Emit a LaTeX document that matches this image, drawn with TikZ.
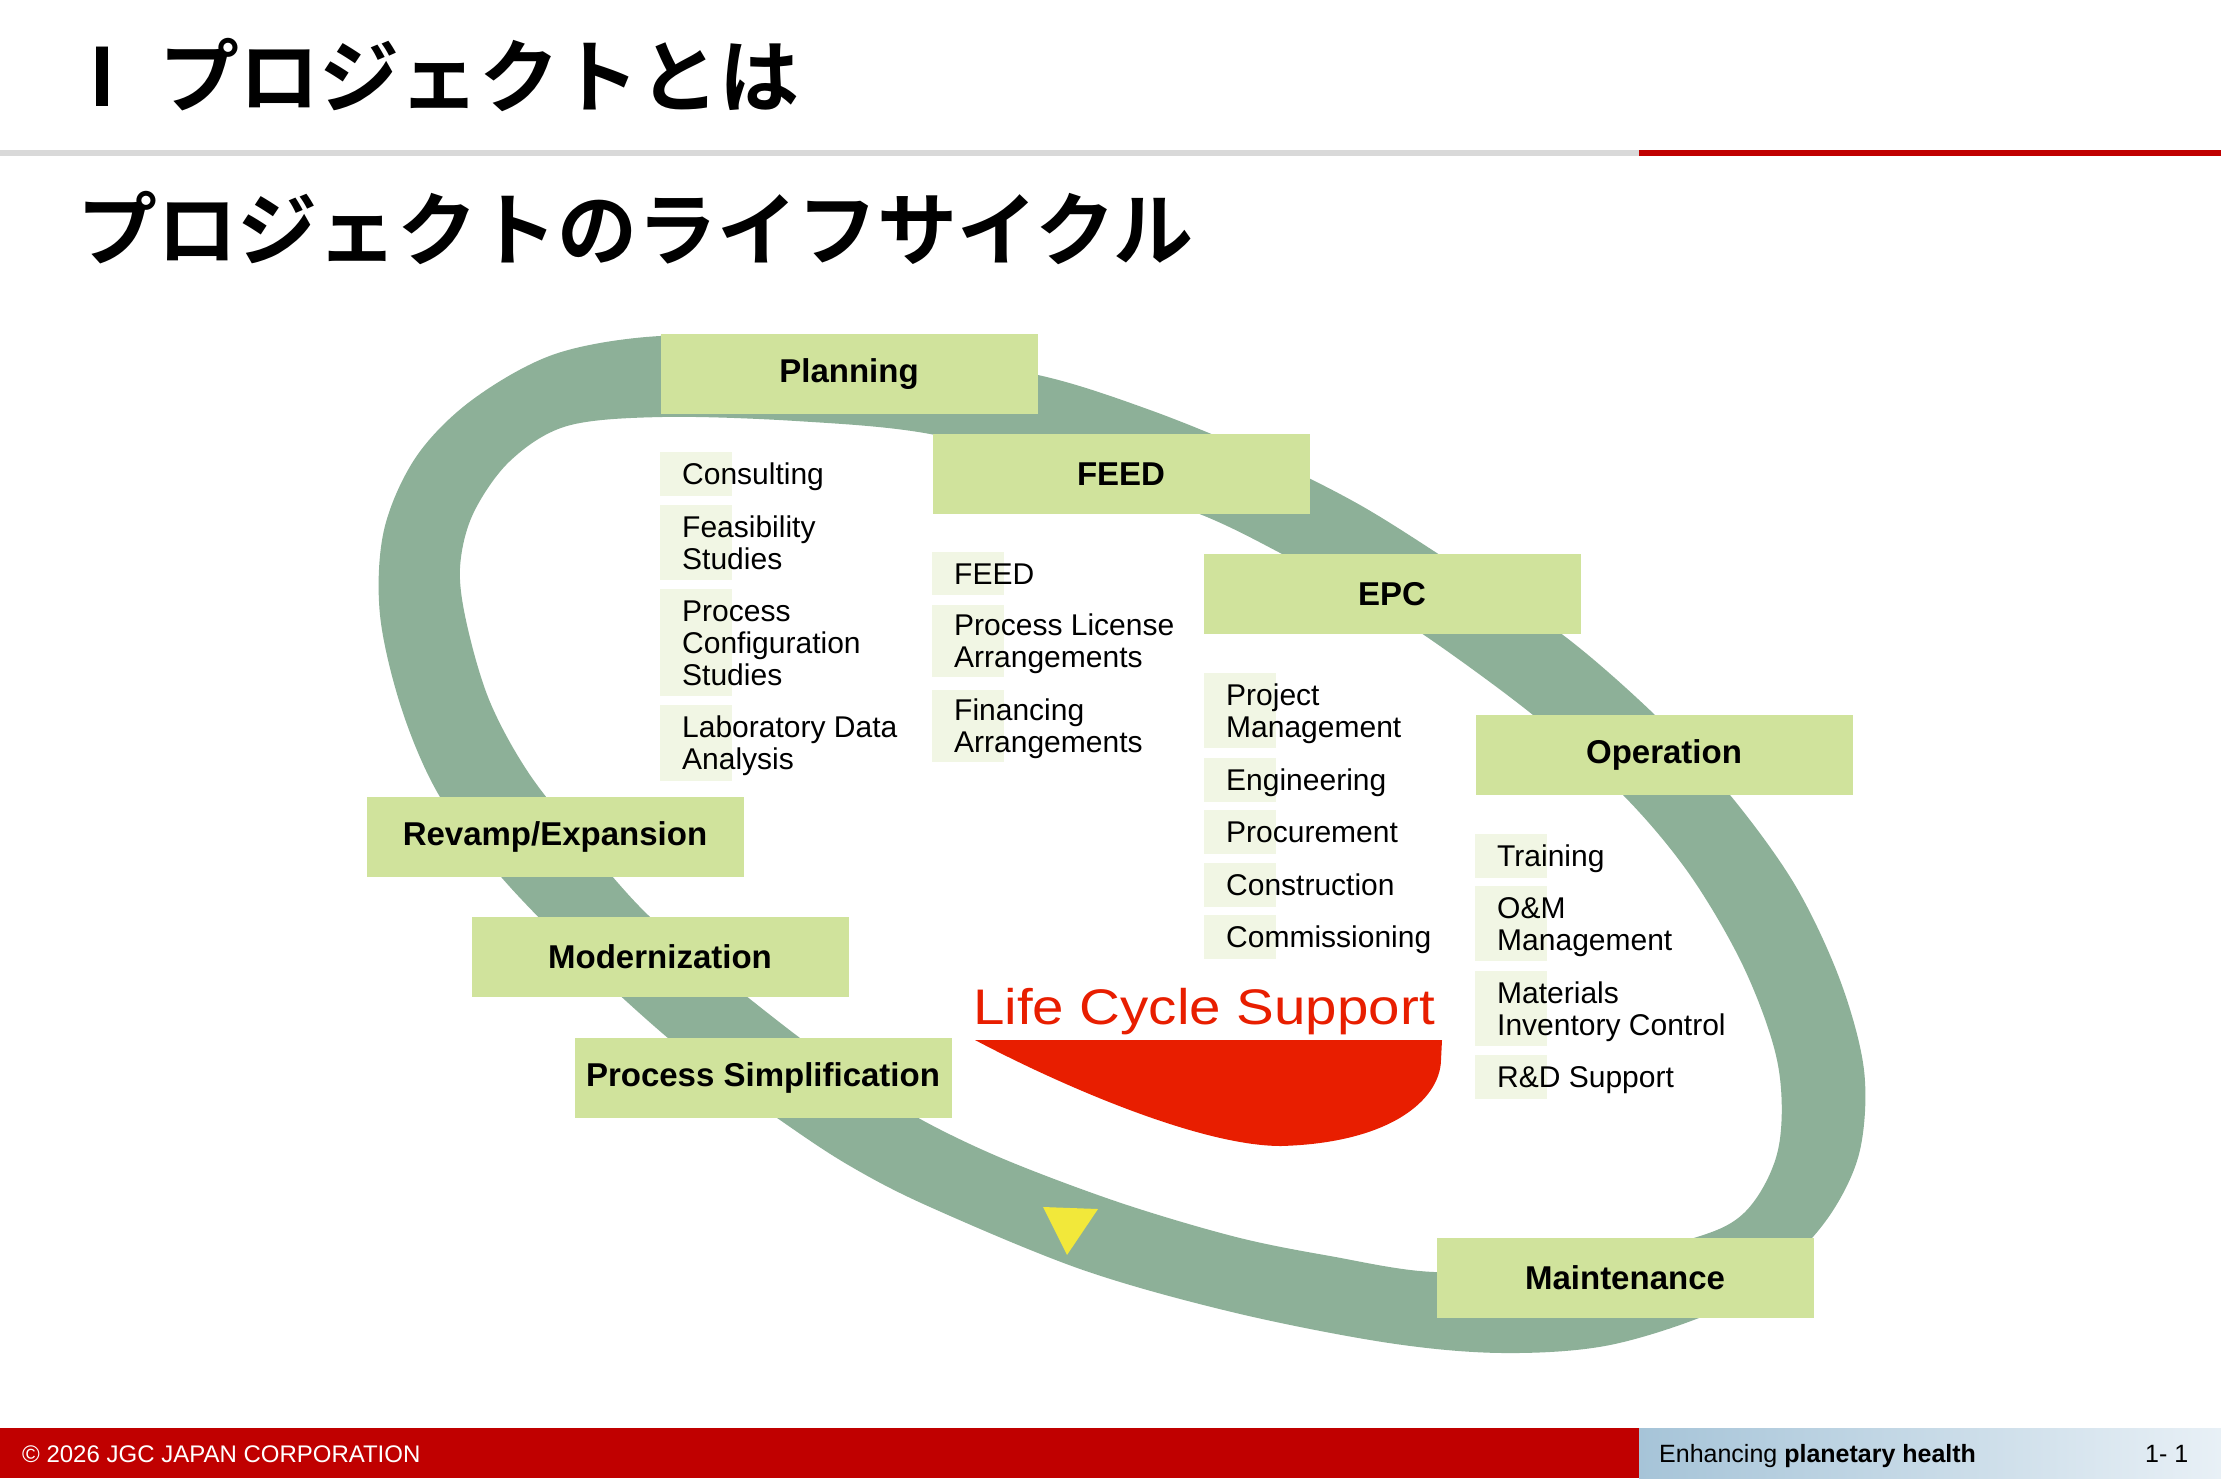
\documentclass[tikz,border=0pt]{standalone}
\usepackage{fontspec}
\setmainfont{Liberation Sans}
\newfontfamily\jp{Noto Sans CJK JP}[BoldFont={Noto Sans CJK JP Bold}]
\definecolor{ringc}{HTML}{8DB098}
\definecolor{boxgreen}{HTML}{D0E39C}
\definecolor{pale}{HTML}{F1F6E4}
\definecolor{lcred}{HTML}{E81E00}
\definecolor{triy}{HTML}{F2E83A}
\definecolor{hred}{HTML}{C00000}
\definecolor{lgray}{HTML}{D9D9D9}
\definecolor{footL}{HTML}{A6C4D8}
\definecolor{footR}{HTML}{E8F0F6}
\tikzset{
  phase/.style={fill=boxgreen, minimum width=377, minimum height=80, inner sep=0,
    font=\bfseries\fontsize{33}{36}\selectfont},
  itemtext/.style={inner sep=0, align=left, font=\fontsize{30}{32}\selectfont},
  titletext/.style={inner sep=0, font=\jp\bfseries\fontsize{80}{80}\selectfont},
  foottext/.style={inner sep=0, font=\fontsize{24}{24}\selectfont},
}
% name, x-left, y-top, y-bottom, number of lines, text
% (the base anchor of a multi-line node is the baseline of its last line)
\newcommand\pitem[6]{%
  \fill[pale] (#2,#3) rectangle (#2+72,#4);
  \pgfmathsetmacro\pbl{(#3+#4)/2+(#5-1)*16+10.8}
  \node[itemtext, anchor=base west] (#1) at (#2+22,\pbl) {#6};
}
\begin{document}
\begin{tikzpicture}[x=1pt,y=-1pt]
\useasboundingbox (0,0) rectangle (2221,1478);
\fill[white] (0,0) rectangle (2221,1478);

% ---- header ----
\node[titletext, anchor=base] (roman) at (102,106) {Ⅰ};
\node[titletext, anchor=base west] (title1) at (159,106) {プロジェクトとは};
\fill[lgray] (0,150) rectangle (1639,156);
\fill[hred] (1639,150) rectangle (2221,156);
\node[titletext, anchor=base west] (title2) at (77,259) {プロジェクトのライフサイクル};

% ---- ring ----
\fill[ringc, even odd rule]
  plot[smooth cycle, tension=0.55] coordinates {
    (660,336) (780,341) (900,355) (1038,375) (1150,410) (1260,455) (1360,505)
    (1460,568) (1563,635) (1655,715) (1730,795) (1795,885) (1840,980)
    (1864,1070) (1860,1150) (1832,1212) (1785,1265) (1718,1310) (1610,1345)
    (1503,1353) (1389,1343) (1236,1313) (1083,1270) (930,1207) (850,1166)
    (780,1120) (680,1048) (580,958) (502,878) (440,797) (402,710) (380,615)
    (384,530) (416,457) (472,400) (555,354)}
  plot[smooth cycle, tension=0.55] coordinates {
    (662,417) (796,421) (930,434) (1070,472) (1197,513) (1284,555) (1360,598)
    (1424,635) (1533,715) (1623,795) (1690,875) (1745,970) (1778,1065)
    (1778,1150) (1745,1212) (1687,1240) (1560,1266) (1434,1272) (1330,1256)
    (1236,1237) (1121,1203) (1006,1160) (922,1120) (860,1080) (800,1038)
    (720,975) (648,915) (590,850) (530,775) (490,702) (467,625) (460,568)
    (473,514) (510,461) (567,426)};

% direction marker
\fill[triy] (1043,1207) -- (1098,1209) -- (1067,1255) -- cycle;

% ---- life cycle support ----
\fill[lcred] (975,1040) -- (1442,1040) -- (1441,1060)
  .. controls (1440,1100) and (1390,1143) .. (1281,1146)
  .. controls (1200,1146) and (1060,1085) .. (975,1040) -- cycle;
\node[inner sep=0, anchor=base west, text=lcred, font=\fontsize{50}{50}\selectfont]
  (lcs) at (973,1024) {\scalebox{1.13}[1]{Life Cycle Support}};

% ---- phase boxes ----
\node[phase] (planning) at (849,374) {Planning};
\node[phase] (feed) at (1121,474) {FEED};
\node[phase] (epc) at (1392,594) {EPC};
\node[phase] (operation) at (1664,755) {Operation};
\node[phase] (revamp) at (555,837) {Revamp/Expansion};
\node[phase] (modern) at (660,957) {Modernization};
\node[phase] (procsimp) at (763,1078) {Process Simplification};
\node[phase] (maint) at (1625,1278) {Maintenance};

% ---- sub items ----
\pitem{consult}{660}{452}{496}{1}{Consulting}
\pitem{feas}{660}{505}{580}{2}{Feasibility\\Studies}
\pitem{pcs}{660}{589}{696}{3}{Process\\Configuration\\Studies}
\pitem{lab}{660}{705}{781}{2}{Laboratory Data\\Analysis}

\pitem{feeditem}{932}{552}{595}{1}{FEED}
\pitem{license}{932}{605}{677}{2}{Process License\\Arrangements}
\pitem{financing}{932}{690}{762}{2}{Financing\\Arrangements}

\pitem{pm}{1204}{673}{748}{2}{Project\\Management}
\pitem{eng}{1204}{758}{802}{1}{Engineering}
\pitem{procure}{1204}{810}{854}{1}{Procurement}
\pitem{constr}{1204}{863}{907}{1}{Construction}
\pitem{comm}{1204}{915}{959}{1}{Commissioning}

\pitem{training}{1475}{834}{878}{1}{Training}
\pitem{om}{1475}{886}{961}{2}{O\&M\\Management}
\pitem{mat}{1475}{971}{1046}{2}{Materials\\Inventory Control}
\pitem{rd}{1475}{1055}{1099}{1}{R\&D Support}

% ---- footer ----
\fill[hred] (0,1428) rectangle (1639,1478);
\shade[left color=footL, right color=footR] (1639,1428) rectangle (2221,1478);
\node[foottext, text=white, anchor=base west] (copy) at (22,1462) {© 2026 JGC JAPAN CORPORATION};
\node[foottext, anchor=base west, font=\fontsize{25}{25}\selectfont] (slogan) at (1659,1462)
  {Enhancing \textbf{planetary health}};
\node[foottext, anchor=base west, font=\fontsize{25}{25}\selectfont] (pageno) at (2145,1462) {1- 1};
\end{tikzpicture}
\end{document}
